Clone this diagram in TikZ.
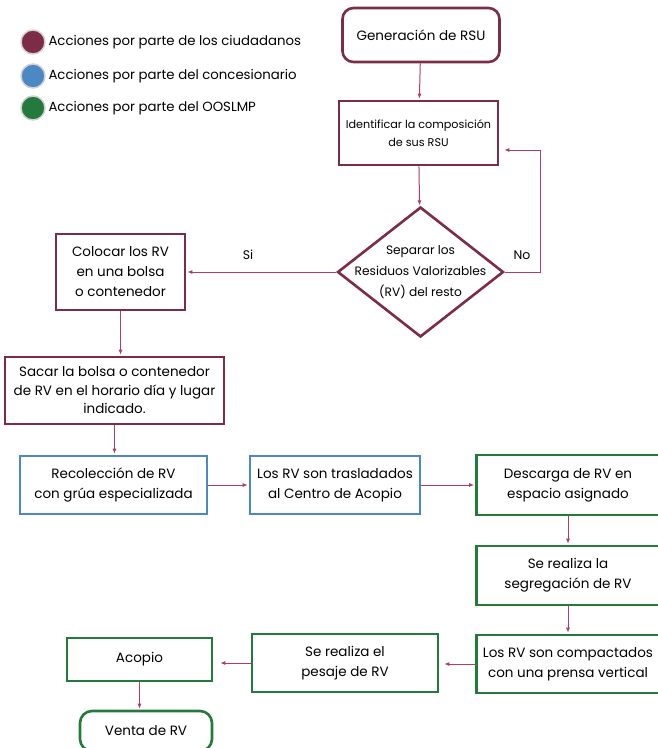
\documentclass[tikz,border=0pt]{standalone}
\usepackage{fontspec}
\setmainfont{Poppins}
\usetikzlibrary{arrows.meta,shapes.geometric}

\definecolor{ciudad}{HTML}{7D2C47}
\definecolor{conce}{HTML}{4C88C4}
\definecolor{oos}{HTML}{247A3C}
\definecolor{flecha}{HTML}{B23C62}

\begin{document}
\begin{tikzpicture}
				[
					x = 1pt, y = -1pt,
					caja/.style = {draw, line width = 2.6pt, align = center, inner sep = 2pt,
						font = \fontsize{13.5}{20}\selectfont},
					ciud/.style = {caja, draw = ciudad},
					conc/.style = {caja, draw = conce},
					oosl/.style = {caja, draw = oos},
					flujo/.style = {-{Latex[length = 5pt, width = 4pt]}, draw = flecha, line width = 1pt, shorten > = 1pt},
					punto/.style = {circle, draw = gray!35, line width = 1.5pt, minimum size = 24pt, inner sep = 0pt},
					leyenda/.style = {anchor = west, font = \fontsize{13.3}{16}\selectfont}
				]
				\useasboundingbox (0,0) rectangle (657,748);

				% leyenda
				\node[punto, fill = ciudad] (p1) at (33,42) {};
				\node[punto, fill = conce] (p2) at (33,76) {};
				\node[punto, fill = oos] (p3) at (33,108) {};
				\node[leyenda] (l1) at (45,42) {Acciones por parte de los ciudadanos};
				\node[leyenda] (l2) at (45,76) {Acciones por parte del concesionario};
				\node[leyenda] (l3) at (45,108) {Acciones por parte del OOSLMP};

				% ciudadanos
				\node[ciud, rounded corners = 11pt, minimum width = 157pt, minimum height = 54pt]
					(gen) at (421,35) {Generación de RSU};
				\node[ciud, minimum width = 159pt, minimum height = 64pt, font = \fontsize{11.2}{18}\selectfont]
					(ident) at (418.5,133) {Identificar la composición\\de sus RSU};
				\node[diamond, draw = ciudad, line width = 2.6pt, minimum width = 166pt, minimum height = 130pt, inner sep = 0pt]
					(sep) at (420.5,272) {};
				\node[align = center, font = \fontsize{12.2}{21}\selectfont]
					(septx) at (sep.center) {Separar los\\Residuos Valorizables\\(RV) del resto};
				\node[ciud, minimum width = 129pt, minimum height = 76pt]
					(colocar) at (120.5,272) {Colocar los RV\\en una bolsa\\o contenedor};
				\node[ciud, minimum width = 219pt, minimum height = 67pt, font = \fontsize{13.5}{18.5}\selectfont]
					(sacar) at (114.5,390.5) {Sacar la bolsa o contenedor\\de RV en el horario día y lugar\\indicado.};

				% concesionario
				\node[conc, minimum width = 187pt, minimum height = 58pt]
					(recol) at (113.5,485) {Recolección de RV\\con grúa especializada};
				\node[conc, minimum width = 170pt, minimum height = 58pt]
					(trasl) at (335,485) {Los RV son trasladados\\al Centro de Acopio};

				% OOSLMP
				\node[oosl, minimum width = 183pt, minimum height = 60pt]
					(desc) at (568,485) {Descarga de RV en\\espacio asignado};
				\node[oosl, minimum width = 183pt, minimum height = 59pt]
					(seg) at (568,575.5) {Se realiza la\\segregación de RV};
				\node[oosl, minimum width = 183pt, minimum height = 58pt]
					(comp) at (568,664) {Los RV son compactados\\con una prensa vertical};
				\node[oosl, minimum width = 186pt, minimum height = 58pt]
					(pes) at (345,663) {Se realiza el\\pesaje de RV};
				\node[oosl, minimum width = 145pt, minimum height = 43pt]
					(acop) at (139.5,659.5) {Acopio};
				\node[oosl, rounded corners = 12pt, minimum width = 132pt, minimum height = 40pt]
					(venta) at (146,731) {Venta de RV};

				% flechas
				\draw[flujo] (gen) -- (ident);
				\draw[flujo] (ident) -- (sep);
				\draw[flujo] (sep.east) -- ++(36,0) |- ([yshift = -17pt, xshift = 4pt]ident.east);
				\draw[flujo] (sep.west) -- (colocar.east);
				\node (si) at (248,255) {\fontsize{12.5}{15}\selectfont Si};
				\node (no) at (522,255) {\fontsize{12.5}{15}\selectfont No};
				\draw[flujo] (colocar.south) -- (colocar.south |- sacar.north);
				\draw[flujo] (sacar.south) -- (sacar.south |- recol.north);
				\draw[flujo] (recol) -- (trasl);
				\draw[flujo] (trasl) -- (desc);
				\draw[flujo] (desc) -- (seg);
				\draw[flujo] (seg) -- (comp);
				\draw[flujo, shorten > = 5pt] (comp.west) -- (comp.west -| pes.east);
				\draw[flujo, shorten > = 7pt] (pes.west) -- (pes.west -| acop.east);
				\draw[flujo] (acop.south) -- (acop.south |- venta.north);
		\end{tikzpicture}
\end{document}
